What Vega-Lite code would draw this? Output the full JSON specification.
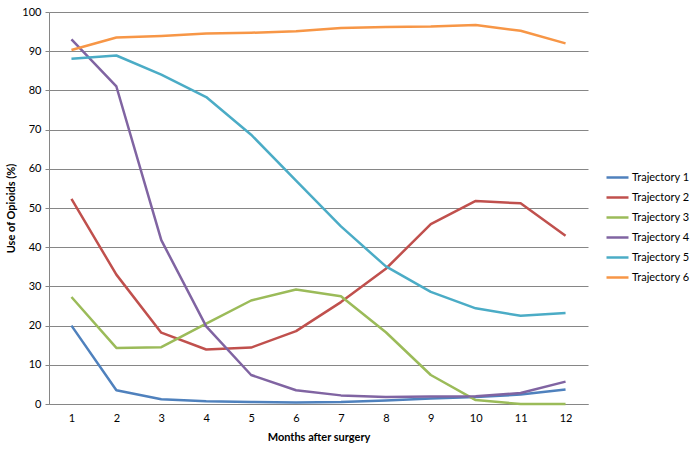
{
  "$schema": "https://vega.github.io/schema/vega-lite/v6.json",
  "width": 539,
  "height": 392,
  "autosize": {"type": "none"},
  "padding": {"left": 49, "top": 12, "right": 105, "bottom": 46},
  "background": "white",
  "config": {
    "view": {"stroke": null},
    "font": "Lato",
    "axis": {"labelFont": "Lato", "titleFont": "Lato", "labelColor": "#000", "titleColor": "#000"}
  },
  "data": {
    "values": [
      {"month": 1, "series": "Trajectory 1", "value": 20.0},
      {"month": 2, "series": "Trajectory 1", "value": 3.5},
      {"month": 3, "series": "Trajectory 1", "value": 1.2},
      {"month": 4, "series": "Trajectory 1", "value": 0.7},
      {"month": 5, "series": "Trajectory 1", "value": 0.5},
      {"month": 6, "series": "Trajectory 1", "value": 0.4},
      {"month": 7, "series": "Trajectory 1", "value": 0.5},
      {"month": 8, "series": "Trajectory 1", "value": 0.9},
      {"month": 9, "series": "Trajectory 1", "value": 1.4},
      {"month": 10, "series": "Trajectory 1", "value": 1.8},
      {"month": 11, "series": "Trajectory 1", "value": 2.4},
      {"month": 12, "series": "Trajectory 1", "value": 3.7},
      {"month": 1, "series": "Trajectory 2", "value": 52.3},
      {"month": 2, "series": "Trajectory 2", "value": 33.0},
      {"month": 3, "series": "Trajectory 2", "value": 18.2},
      {"month": 4, "series": "Trajectory 2", "value": 13.9},
      {"month": 5, "series": "Trajectory 2", "value": 14.4},
      {"month": 6, "series": "Trajectory 2", "value": 18.6},
      {"month": 7, "series": "Trajectory 2", "value": 26.0},
      {"month": 8, "series": "Trajectory 2", "value": 34.5},
      {"month": 9, "series": "Trajectory 2", "value": 45.9},
      {"month": 10, "series": "Trajectory 2", "value": 51.8},
      {"month": 11, "series": "Trajectory 2", "value": 51.2},
      {"month": 12, "series": "Trajectory 2", "value": 42.9},
      {"month": 1, "series": "Trajectory 3", "value": 27.3},
      {"month": 2, "series": "Trajectory 3", "value": 14.3},
      {"month": 3, "series": "Trajectory 3", "value": 14.5},
      {"month": 4, "series": "Trajectory 3", "value": 20.5},
      {"month": 5, "series": "Trajectory 3", "value": 26.4},
      {"month": 6, "series": "Trajectory 3", "value": 29.2},
      {"month": 7, "series": "Trajectory 3", "value": 27.5},
      {"month": 8, "series": "Trajectory 3", "value": 18.3},
      {"month": 9, "series": "Trajectory 3", "value": 7.4},
      {"month": 10, "series": "Trajectory 3", "value": 1.0},
      {"month": 11, "series": "Trajectory 3", "value": 0.0},
      {"month": 12, "series": "Trajectory 3", "value": 0.0},
      {"month": 1, "series": "Trajectory 4", "value": 93.0},
      {"month": 2, "series": "Trajectory 4", "value": 81.0},
      {"month": 3, "series": "Trajectory 4", "value": 41.8},
      {"month": 4, "series": "Trajectory 4", "value": 19.8},
      {"month": 5, "series": "Trajectory 4", "value": 7.4},
      {"month": 6, "series": "Trajectory 4", "value": 3.5},
      {"month": 7, "series": "Trajectory 4", "value": 2.2},
      {"month": 8, "series": "Trajectory 4", "value": 1.8},
      {"month": 9, "series": "Trajectory 4", "value": 1.9},
      {"month": 10, "series": "Trajectory 4", "value": 2.0},
      {"month": 11, "series": "Trajectory 4", "value": 2.8},
      {"month": 12, "series": "Trajectory 4", "value": 5.7},
      {"month": 1, "series": "Trajectory 5", "value": 88.1},
      {"month": 2, "series": "Trajectory 5", "value": 88.9},
      {"month": 3, "series": "Trajectory 5", "value": 84.0},
      {"month": 4, "series": "Trajectory 5", "value": 78.3},
      {"month": 5, "series": "Trajectory 5", "value": 68.7},
      {"month": 6, "series": "Trajectory 5", "value": 57.0},
      {"month": 7, "series": "Trajectory 5", "value": 45.3},
      {"month": 8, "series": "Trajectory 5", "value": 35.1},
      {"month": 9, "series": "Trajectory 5", "value": 28.6},
      {"month": 10, "series": "Trajectory 5", "value": 24.4},
      {"month": 11, "series": "Trajectory 5", "value": 22.5},
      {"month": 12, "series": "Trajectory 5", "value": 23.2},
      {"month": 1, "series": "Trajectory 6", "value": 90.3},
      {"month": 2, "series": "Trajectory 6", "value": 93.5},
      {"month": 3, "series": "Trajectory 6", "value": 93.9},
      {"month": 4, "series": "Trajectory 6", "value": 94.5},
      {"month": 5, "series": "Trajectory 6", "value": 94.7},
      {"month": 6, "series": "Trajectory 6", "value": 95.1},
      {"month": 7, "series": "Trajectory 6", "value": 95.9},
      {"month": 8, "series": "Trajectory 6", "value": 96.2},
      {"month": 9, "series": "Trajectory 6", "value": 96.3},
      {"month": 10, "series": "Trajectory 6", "value": 96.7},
      {"month": 11, "series": "Trajectory 6", "value": 95.2},
      {"month": 12, "series": "Trajectory 6", "value": 92.0}
    ]
  },
  "mark": {"type": "line", "strokeWidth": 2.5, "strokeJoin": "round"},
  "encoding": {
    "x": {
      "field": "month",
      "type": "ordinal",
      "scale": {"type": "point", "padding": 0.5},
      "axis": {
        "title": "Months after surgery",
        "titleFontSize": 11,
        "titleFontWeight": "bold",
        "titlePadding": 8,
        "labelAngle": 0,
        "labelFontSize": 11,
        "labelPadding": 8,
        "ticks": false,
        "domainColor": "#868686",
        "domainWidth": 1,
        "grid": false
      }
    },
    "y": {
      "field": "value",
      "type": "quantitative",
      "scale": {"domain": [0, 100], "nice": false},
      "axis": {
        "title": "Use of Opioids (%)",
        "titleFontSize": 11,
        "titleFontWeight": "bold",
        "titlePadding": 5,
        "values": [0, 10, 20, 30, 40, 50, 60, 70, 80, 90, 100],
        "labelFontSize": 11,
        "labelPadding": 4,
        "tickSize": 4,
        "tickColor": "#868686",
        "domainColor": "#868686",
        "gridColor": "#868686",
        "gridWidth": 1
      }
    },
    "color": {
      "field": "series",
      "type": "nominal",
      "scale": {
        "domain": ["Trajectory 1", "Trajectory 2", "Trajectory 3", "Trajectory 4", "Trajectory 5", "Trajectory 6"],
        "range": ["#4F81BD", "#C0504D", "#9BBB59", "#8064A2", "#4BACC6", "#F79646"]
      },
      "legend": {
        "title": null,
        "orient": "none",
        "legendX": 556,
        "legendY": 153,
        "symbolType": "stroke",
        "symbolSize": 484,
        "symbolStrokeWidth": 2.5,
        "rowPadding": 2,
        "labelFontSize": 11,
        "labelOffset": 2,
        "labelColor": "#000"
      }
    }
  }
}
